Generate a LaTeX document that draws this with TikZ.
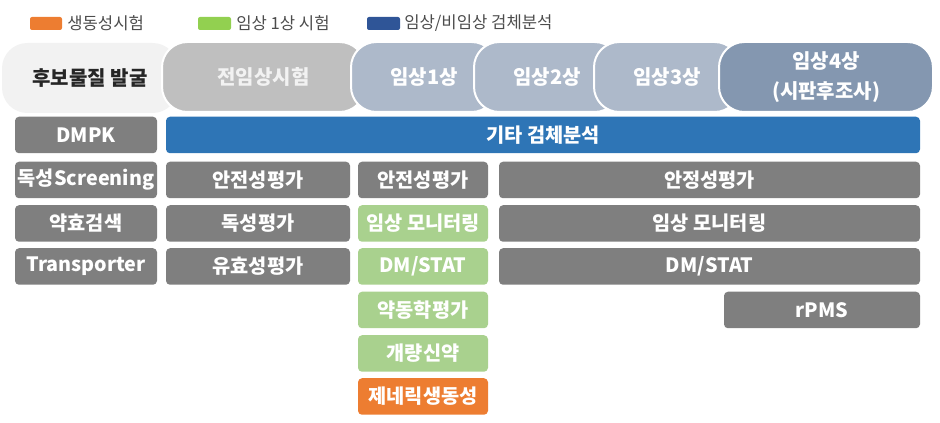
\documentclass[tikz,border=0pt]{standalone}
\usepackage{fontspec}
\setmainfont{Noto Sans CJK KR}
\usepackage{xcolor}
\definecolor{cellgray}{HTML}{7F7F7F}
\definecolor{barblue}{HTML}{2E75B6}
\definecolor{pkgreen}{HTML}{A9D18E}
\definecolor{beorange}{HTML}{ED7D31}
\definecolor{leggreen}{HTML}{92D050}
\definecolor{legblue}{HTML}{2F5597}
\definecolor{hdrlight}{HTML}{F2F2F2}
\definecolor{hdrgray}{HTML}{BFBFBF}
\definecolor{hdrblue}{HTML}{ADB9CA}
\definecolor{hdrdark}{HTML}{8497B0}

\tikzset{
  sz/.style 2 args={minimum width=#1*0.75pt, minimum height=#2*0.75pt},
  cell/.style={fill=cellgray, rounded corners=3pt, inner sep=0pt, text=white,
    font=\fontsize{14.8}{17}\selectfont\bfseries},
  hdr/.style={draw=white, line width=1.5pt, rounded corners=19pt, inner sep=0pt,
    text=white, font=\fontsize{15}{18}\selectfont\bfseries},
  legsq/.style={rounded corners=1.5pt, inner sep=0pt},
  legtxt/.style={anchor=west, inner sep=0pt, text=black!70,
    font=\fontsize{12.5}{15}\selectfont}
}

\begin{document}
\begin{tikzpicture}[x=0.75pt, y=-0.75pt]
    \useasboundingbox (0,0) rectangle (940,423);
    % Legende
    \node[legsq, fill=beorange, sz={32}{13}] (sqbe) at (46,23.5) {};
    \node[legtxt] (txbe) at (67,23) {생동성시험};
    \node[legsq, fill=leggreen, sz={33}{13}] (sqpk) at (214.5,23.5) {};
    \node[legtxt] (txpk) at (236,23) {임상 1상 시험};
    \node[legsq, fill=legblue, sz={33}{13}] (sqba) at (383.5,23.5) {};
    \node[legtxt] (txba) at (404,23) {임상/비임상 검체분석};
    % Phasen (ueberlappend, links nach rechts)
    \node[hdr, fill=hdrlight, draw=none, text=black!85, sz={176}{70}] (discovery) at (90,78) {후보물질 발굴};
    \node[hdr, fill=hdrgray, text=hdrlight, sz={203}{70}] (preclin) at (263.5,77) {전임상시험};
    \node[hdr, fill=hdrblue, sz={146}{70}] (phaseI) at (424,77) {임상1상};
    \node[hdr, fill=hdrblue, sz={146}{70}] (phaseII) at (547,77) {임상2상};
    \node[hdr, fill=hdrblue, sz={146}{70}] (phaseIII) at (667,77) {임상3상};
    \node[hdr, fill=hdrdark, align=center, sz={214}{70}] (phaseIV) at (826,77) {임상4상\\[5pt](시판후조사)};
    % Zeile 1
    \node[cell, sz={142}{36.5}] (dmpk) at (86,135) {DMPK};
    \node[cell, fill=barblue, sz={754}{36.5}] (bioanal) at (543,135) {기타 검체분석};
    % Zeile 2
    \node[cell, sz={142}{36.5}] (toxscr) at (86,180) {독성Screening};
    \node[cell, sz={184}{36.5}] (safetyA) at (258,180) {안전성평가};
    \node[cell, sz={130}{36.5}] (safetyB) at (423,180) {안전성평가};
    \node[cell, sz={421}{36.5}] (stability) at (709.5,180) {안정성평가};
    % Zeile 3
    \node[cell, sz={142}{36.5}] (efficacy) at (86,223.5) {약효검색};
    \node[cell, sz={184}{36.5}] (toxeval) at (258,223.5) {독성평가};
    \node[cell, fill=pkgreen, sz={130}{36.5}] (monA) at (423,223.5) {임상 모니터링};
    \node[cell, sz={421}{36.5}] (monB) at (709.5,223.5) {임상 모니터링};
    % Zeile 4
    \node[cell, sz={142}{36.5}] (transp) at (86,266.5) {Transporter};
    \node[cell, sz={184}{36.5}] (effeval) at (258,266.5) {유효성평가};
    \node[cell, fill=pkgreen, sz={130}{36.5}] (dmA) at (423,266.5) {DM/STAT};
    \node[cell, sz={421}{36.5}] (dmB) at (709.5,266.5) {DM/STAT};
    % Zeilen 5-7
    \node[cell, fill=pkgreen, sz={130}{36.5}] (pkeval) at (423,310) {약동학평가};
    \node[cell, sz={196}{36.5}] (rpms) at (822,310) {rPMS};
    \node[cell, fill=pkgreen, sz={130}{36.5}] (improved) at (423,353.5) {개량신약};
    \node[cell, fill=beorange, sz={130}{36.5}] (generic) at (423,396.5) {제네릭생동성};
\end{tikzpicture}
\end{document}
